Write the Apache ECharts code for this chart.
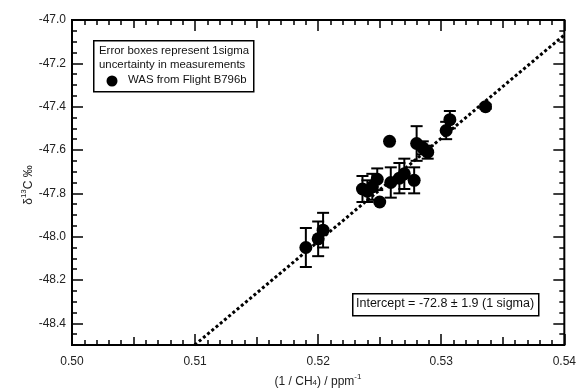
<!DOCTYPE html>
<html><head><meta charset="utf-8">
<script src="https://cdn.jsdelivr.net/npm/echarts@6/dist/echarts.min.js"></script>
<style>html,body{margin:0;padding:0;background:#fff}#c{width:579px;height:389px}</style>
</head><body><div id="c"></div>
<script>
// ---- data ----
const xVals = [0.5190, 0.5200, 0.5204, 0.5236, 0.5240, 0.5244, 0.5248, 0.5250, 0.5258, 0.5259, 0.5266, 0.5270, 0.5278, 0.5280, 0.5285, 0.5289, 0.5304, 0.5307, 0.5336];
const yVals = [-48.05, -48.01, -47.97, -47.78, -47.79, -47.77, -47.735, -47.84, -47.56, -47.75, -47.73, -47.71, -47.74, -47.57, -47.59, -47.61, -47.51, -47.46, -47.40];
const yErr  = [0.09, 0.08, 0.08, 0.06, 0.05, 0.06, 0.05, 0.0, 0.0, 0.07, 0.07, 0.07, 0.06, 0.08, 0.03, 0.03, 0.04, 0.04, 0.01];
const fitIntercept = -72.8;
const fitSlope = 47.65;
const xTickLabels = [0.50, 0.51, 0.52, 0.53, 0.54];
const xMidTicks = [0.505, 0.515, 0.525, 0.535];
const yTickLabels = [-48.4, -48.2, -48.0, -47.8, -47.6, -47.4, -47.2, -47.0];
const legendLines = ['Error boxes represent 1sigma', 'uncertainty in measurements', 'WAS from Flight B796b'];
const interceptText = 'Intercept = -72.8 \u00b1 1.9 (1 sigma)';

// ---- build ----
const FONT = 'Liberation Sans, Arial, sans-serif';
const xMin = 0.50, xMax = 0.54, yMin = -48.5, yMax = -47.0;
const pts = xVals.map((x, i) => [x, yVals[i], yErr[i]]);
const fitX0 = (yMin - fitIntercept) / fitSlope;
const fitLine = [[fitX0, fitIntercept + fitSlope * fitX0], [xMax, fitIntercept + fitSlope * xMax]];

function xAx(pos, opts) {
  return Object.assign({
    type: 'value', position: pos, min: xMin, max: xMax, gridIndex: 0,
    axisLine: { show: false }, splitLine: { show: false },
    axisLabel: { show: false }, axisTick: { show: false }
  }, opts);
}
function yAx(pos, opts) {
  return Object.assign({
    type: 'value', position: pos, min: yMin, max: yMax, gridIndex: 0,
    axisLine: { show: false }, splitLine: { show: false },
    axisLabel: { show: false }, axisTick: { show: false }
  }, opts);
}
const tickStyle = { color: '#000', width: 1.5 };
const xAxes = [];
['bottom', 'top'].forEach(pos => {
  xAxes.push(xAx(pos, { interval: 0.001, axisTick: { show: true, inside: true, length: 5, lineStyle: tickStyle } }));
  xAxes.push(xAx(pos, { axisTick: { show: true, inside: true, length: 8, customValues: xMidTicks, lineStyle: tickStyle } }));
  xAxes.push(xAx(pos, {
    axisTick: { show: true, inside: true, length: 11, customValues: xTickLabels, lineStyle: tickStyle },
    axisLabel: pos === 'bottom' ? { show: true, customValues: xTickLabels, formatter: v => v.toFixed(2), color: '#222', fontFamily: FONT, fontSize: 12, margin: 11 } : { show: false }
  }));
});
const yAxes = [];
['left', 'right'].forEach(pos => {
  yAxes.push(yAx(pos, { interval: 0.05, axisTick: { show: true, inside: true, length: 5, lineStyle: tickStyle } }));
  yAxes.push(yAx(pos, {
    axisTick: { show: true, inside: true, length: 11, customValues: yTickLabels, lineStyle: tickStyle },
    axisLabel: pos === 'left' ? { show: true, customValues: yTickLabels, formatter: v => v.toFixed(1), color: '#222', fontFamily: FONT, fontSize: 12, margin: 6 } : { show: false }
  }));
});

const chart = echarts.init(document.getElementById('c'), null, { renderer: 'canvas' });
chart.setOption({
  animation: false,
  backgroundColor: '#fff',
  grid: { left: 72, top: 20, right: 10, bottom: 44, show: true, borderColor: '#000', borderWidth: 2, backgroundColor: 'transparent' },
  xAxis: xAxes,
  yAxis: yAxes,
  series: [
    {
      type: 'line', data: fitLine, xAxisIndex: 0, yAxisIndex: 0, symbol: 'none', clip: true,
      lineStyle: { color: '#000', width: 3, type: [3, 2.5] }, z: 2
    },
    {
      type: 'custom', data: pts, xAxisIndex: 0, yAxisIndex: 0, z: 3,
      renderItem: function (params, api) {
        const x = api.value(0), y = api.value(1), e = api.value(2);
        if (!e) return null;
        const top = api.coord([x, y + e]);
        const bot = api.coord([x, y - e]);
        const hw = 6;
        return {
          type: 'group',
          children: [
            { type: 'line', shape: { x1: top[0], y1: top[1], x2: bot[0], y2: bot[1] }, style: { stroke: '#000', lineWidth: 2 } },
            { type: 'line', shape: { x1: top[0] - hw, y1: top[1], x2: top[0] + hw, y2: top[1] }, style: { stroke: '#000', lineWidth: 2 } },
            { type: 'line', shape: { x1: bot[0] - hw, y1: bot[1], x2: bot[0] + hw, y2: bot[1] }, style: { stroke: '#000', lineWidth: 2 } }
          ]
        };
      }
    },
    {
      type: 'scatter', data: pts.map(p => [p[0], p[1]]), xAxisIndex: 0, yAxisIndex: 0, z: 4,
      symbol: 'circle', symbolSize: 13, itemStyle: { color: '#000', opacity: 1 }
    }
  ],
  graphic: [
    { type: 'rect', left: 93, top: 40, z: 10, shape: { width: 160, height: 51 }, style: { fill: '#fff', stroke: '#000', lineWidth: 1.5 } },
    { type: 'text', left: 99, top: 45, z: 11, style: { text: legendLines[0], font: '11.4px ' + FONT, fill: '#111' } },
    { type: 'text', left: 99, top: 59, z: 11, style: { text: legendLines[1], font: '11.4px ' + FONT, fill: '#111' } },
    { type: 'circle', z: 11, shape: { cx: 112, cy: 81, r: 5.5 }, style: { fill: '#000' } },
    { type: 'text', left: 128, top: 74, z: 11, style: { text: legendLines[2], font: '11.4px ' + FONT, fill: '#111' } },
    { type: 'rect', left: 352, top: 293, z: 10, shape: { width: 186, height: 22 }, style: { fill: '#fff', stroke: '#000', lineWidth: 1.5 } },
    { type: 'text', left: 356, top: 297, z: 11, style: { text: interceptText, font: '12.5px ' + FONT, fill: '#111' } },
    {
      type: 'text', z: 11, x: 27, y: 185, rotation: Math.PI / 2,
      style: {
        text: '{a|\u03b4}{s|13}{a|C \u2030}', align: 'center', verticalAlign: 'middle',
        rich: {
          a: { fontFamily: FONT, fontSize: 12, fill: '#222', verticalAlign: 'bottom' },
          s: { fontFamily: FONT, fontSize: 8, fill: '#222', verticalAlign: 'bottom', padding: [0, 0, 7, 0] }
        }
      }
    },
    {
      type: 'text', z: 11, x: 318, y: 380,
      style: {
        text: '{a|(1 / CH}{b|4}{a|) / ppm}{s|-1}', align: 'center', verticalAlign: 'middle',
        rich: {
          a: { fontFamily: FONT, fontSize: 12, fill: '#222', verticalAlign: 'bottom' },
          b: { fontFamily: FONT, fontSize: 8, fill: '#222', verticalAlign: 'top', padding: [6, 0, 0, 0] },
          s: { fontFamily: FONT, fontSize: 8, fill: '#222', verticalAlign: 'bottom', padding: [0, 0, 7, 0] }
        }
      }
    }
  ]
});
</script></body></html>
